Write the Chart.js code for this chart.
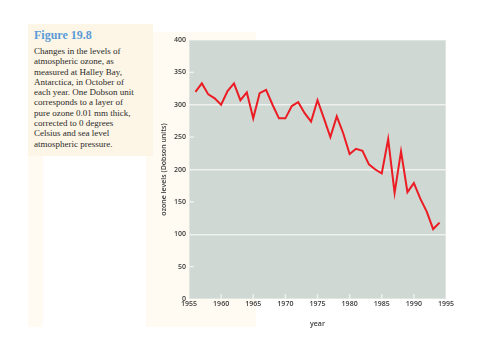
<!DOCTYPE html>
<html>
<head>
<meta charset="utf-8">
<script src="https://cdn.jsdelivr.net/npm/chart.js@4"></script>
<style>
  html, body { margin: 0; padding: 0; background: #ffffff; }
  #wrap { position: relative; width: 480px; height: 360px; overflow: hidden; }
  .cream { position: absolute; }
  #panelA { left: 28px; top: 24px; width: 125px; height: 132px; background: #fdf6e6; }
  #panelB { left: 146px; top: 32px; width: 110px; height: 295px; background: #fffbf3; }
  #panelC { left: 28px; top: 24px; width: 15px; height: 303px; background: #fffbf3; }
  #caption { position: absolute; left: 34px; top: 28px; white-space: nowrap; }
  #fig { font-family: "Liberation Serif", serif; font-weight: bold; font-size: 12px; color: #5b9bd8; margin-bottom: 3px; }
  #body { font-family: "Liberation Serif", serif; font-size: 9px; line-height: 10.3px; color: #2a2a2a; }
  canvas { position: absolute; left: 0; top: 0; }
</style>
</head>
<body>
<div id="wrap">
  <div class="cream" id="panelC"></div>
  <div class="cream" id="panelB"></div>
  <div class="cream" id="panelA"></div>
  <div id="caption">
    <div id="fig">Figure 19.8</div>
    <div id="body">Changes in the levels of<br>atmospheric ozone, as<br>measured at Halley Bay,<br>Antarctica, in October of<br>each year. One Dobson unit<br>corresponds to a layer of<br>pure ozone 0.01 mm thick,<br>corrected to 0 degrees<br>Celsius and sea level<br>atmospheric pressure.</div>
  </div>
  <canvas id="c" width="480" height="360"></canvas>
</div>
<script>
const years = [1956,1957,1958,1959,1960,1961,1962,1963,1964,1965,1966,1967,1968,1969,1970,1971,1972,1973,1974,1975,1976,1977,1978,1979,1980,1981,1982,1983,1984,1985,1986,1987,1988,1989,1990,1991,1992,1993,1994];
const ozone = [320,333,316,310,300,321,333,307,319,279,318,323,300,279,279,298,304,287,274,307,279,250,282,256,224,232,229,208,200,194,247,164,228,165,179,155,135,108,118];
const xTickLabels = ["1955","1960","1965","1970","1975","1980","1985","1990","1995"];
const yTickLabels = ["0","50","100","150","200","250","300","350","400"];
const xTitle = "year";
const yTitle = "ozone levels (Dobson units)";

const points = years.map((y, i) => ({ x: y, y: ozone[i] }));

const plotBg = {
  id: 'plotBg',
  beforeDraw(chart) {
    const { ctx, chartArea: a } = chart;
    ctx.save();
    ctx.fillStyle = '#cfd8d2';
    ctx.fillRect(a.left, a.top, a.right - a.left, a.bottom - a.top);
    ctx.strokeStyle = '#dfe5e0';
    ctx.lineWidth = 1;
    ctx.strokeRect(a.left + 0.5, a.top + 0.5, a.right - a.left - 1, a.bottom - a.top - 1);
    ctx.restore();
  },
  beforeDatasetsDraw(chart) {
    const { ctx, chartArea: a, scales } = chart;
    ctx.save();
    ctx.strokeStyle = '#eef1ee';
    ctx.lineWidth = 1.5;
    scales.y.ticks.forEach(t => {
      if (t.value % 100 !== 0 && t.value > 0 && t.value < 400) {
        const py = scales.y.getPixelForValue(t.value);
        ctx.beginPath(); ctx.moveTo(a.left, py); ctx.lineTo(a.left + 5, py); ctx.stroke();
      }
    });
    scales.x.ticks.forEach(t => {
      if (t.value > 1955 && t.value < 1995) {
        const px = scales.x.getPixelForValue(t.value);
        ctx.beginPath(); ctx.moveTo(px, a.bottom); ctx.lineTo(px, a.bottom - 5); ctx.stroke();
      }
    });
    ctx.restore();
  }
};

new Chart(document.getElementById('c'), {
  type: 'line',
  data: {
    datasets: [{
      data: points,
      borderColor: '#ec1c24',
      borderWidth: 2,
      pointRadius: 0,
      tension: 0,
      fill: false
    }]
  },
  options: {
    responsive: false,
    animation: false,
    layout: { padding: { left: 150, right: 34, top: 40, bottom: 28 } },
    plugins: { legend: { display: false }, tooltip: { enabled: false } },
    scales: {
      x: {
        type: 'linear',
        min: 1955, max: 1995,
        afterFit(s) { s.height = 33; },
        afterBuildTicks(s) { s.ticks = xTickLabels.map(v => ({ value: Number(v) })); },
        ticks: {
          stepSize: 5,
          padding: 1,
          maxRotation: 0,
          color: '#3a3a3a',
          font: { family: 'Open Sans', size: 7, weight: '600' },
          callback: (v, i) => xTickLabels[i]
        },
        grid: { display: false, drawTicks: false },
        border: { display: false },
        title: {
          display: true, text: xTitle, color: '#3a3a3a',
          font: { family: 'Open Sans', size: 7, weight: '600' },
          padding: { top: 4, bottom: 4 }
        }
      },
      y: {
        type: 'linear',
        min: 0, max: 400,
        afterFit(s) { s.width = 39; },
        afterBuildTicks(s) { s.ticks = yTickLabels.map(v => ({ value: Number(v) })); },
        ticks: {
          stepSize: 50,
          padding: 3,
          color: '#3a3a3a',
          font: { family: 'Open Sans', size: 7, weight: '600' },
          callback: (v, i) => yTickLabels[i]
        },
        grid: {
          drawTicks: false,
          color: c => (c.tick && c.tick.value % 100 === 0 && c.tick.value > 0 && c.tick.value < 400) ? '#eef1ee' : 'rgba(0,0,0,0)',
          lineWidth: 1.5
        },
        border: { display: false },
        title: {
          display: true, text: yTitle, color: '#3a3a3a',
          font: { family: 'Open Sans', size: 7, weight: '600' },
          padding: { top: 10, bottom: 0 }
        }
      }
    }
  },
  plugins: [plotBg]
});
</script>
</body>
</html>
